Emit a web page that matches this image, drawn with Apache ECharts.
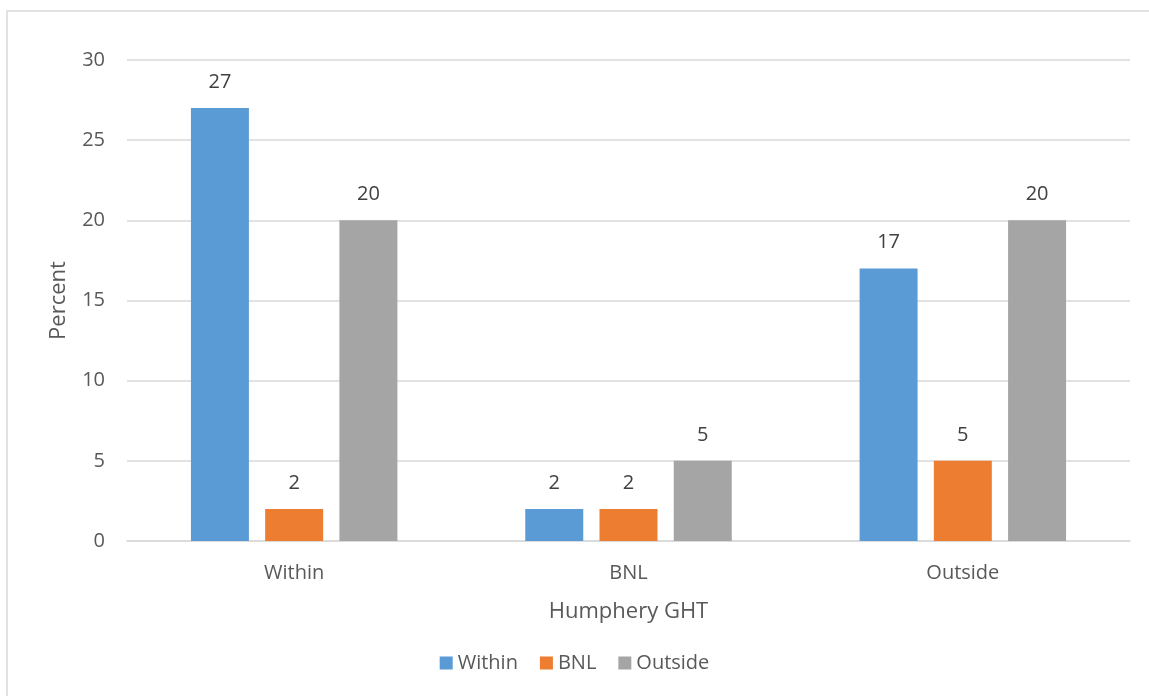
<!DOCTYPE html>
<html>
<head>
<meta charset="utf-8">
<script src="https://cdn.jsdelivr.net/npm/echarts@6/dist/echarts.min.js"></script>
<style>
  html, body { margin: 0; padding: 0; background: #fff; }
  #chart { width: 1149px; height: 696px; }
</style>
</head>
<body>
<div id="chart"></div>
<script>
// Categories on the x axis and one value list per series
const categories = ['Within', 'BNL', 'Outside'];
const withinValues = [27, 2, 17];
const bnlValues = [2, 2, 5];
const outsideValues = [20, 5, 20];
const yTicks = { min: 0, max: 30, interval: 5 };

const FONT = '"Open Sans", "Liberation Sans", sans-serif';
const TEXT = '#595959';

const chart = echarts.init(document.getElementById('chart'), null, { renderer: 'canvas' });

function barSeries(name, data, color) {
  return {
    name: name,
    type: 'bar',
    data: data,
    barWidth: 58,
    barGap: '28%',
    itemStyle: { color: color },
    label: {
      show: true,
      position: 'top',
      distance: 16,
      color: '#404040',
      fontFamily: FONT,
      fontSize: 20
    }
  };
}

chart.setOption({
  animation: false,
  backgroundColor: '#fff',
  graphic: [{
    type: 'rect',
    shape: { x: 7, y: 11, width: 1200, height: 720 },
    style: { fill: 'none', stroke: '#d9d9d9', lineWidth: 1.5 },
    silent: true,
    z: -1
  }],
  grid: { left: 127, right: 19, top: 60, bottom: 155 },
  legend: {
    bottom: 18,
    left: 'center',
    itemWidth: 13,
    itemHeight: 13,
    itemGap: 22,
    icon: 'rect',
    textStyle: { color: TEXT, fontFamily: FONT, fontSize: 20 },
    data: ['Within', 'BNL', 'Outside']
  },
  xAxis: {
    type: 'category',
    data: categories,
    name: 'Humphery GHT',
    nameLocation: 'middle',
    nameGap: 60,
    nameTextStyle: { color: TEXT, fontFamily: FONT, fontSize: 22 },
    axisLine: { lineStyle: { color: '#d9d9d9', width: 1.5 } },
    axisTick: { show: false },
    axisLabel: { color: TEXT, fontFamily: FONT, fontSize: 20, margin: 22 }
  },
  yAxis: {
    type: 'value',
    min: yTicks.min,
    max: yTicks.max,
    interval: yTicks.interval,
    name: 'Percent',
    nameLocation: 'middle',
    nameGap: 57,
    nameTextStyle: { color: TEXT, fontFamily: FONT, fontSize: 22 },
    axisLine: { show: false },
    axisTick: { show: false },
    axisLabel: { color: TEXT, fontFamily: FONT, fontSize: 20, margin: 22 },
    splitLine: { lineStyle: { color: '#d9d9d9', width: 1.5 } }
  },
  series: [
    barSeries('Within', withinValues, '#5B9BD5'),
    barSeries('BNL', bnlValues, '#ED7D31'),
    barSeries('Outside', outsideValues, '#A5A5A5')
  ]
});
</script>
</body>
</html>
